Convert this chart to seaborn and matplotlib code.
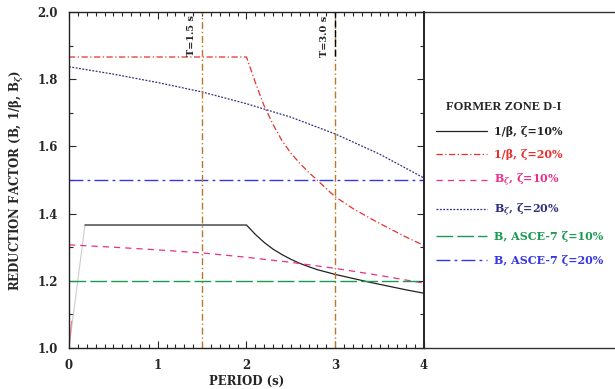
import numpy as np
import pandas as pd
import matplotlib
matplotlib.use("Agg")
import matplotlib.pyplot as plt
from matplotlib.lines import Line2D
from matplotlib.ticker import MultipleLocator
import seaborn as sns

# --- data ---
period_beta10 = [0.18, 2.0, 2.1, 2.2, 2.3, 2.4, 2.5, 2.6, 2.7, 2.8, 2.9, 3.0,
                 3.2, 3.4, 3.6, 3.8, 4.0]
beta10 = [1.366, 1.366, 1.338, 1.314, 1.294, 1.278, 1.264, 1.252, 1.242, 1.233,
          1.226, 1.219, 1.207, 1.195, 1.184, 1.173, 1.163]

period_beta20 = [0.0, 2.0, 2.1, 2.2, 2.3, 2.4, 2.5, 2.6, 2.7, 2.8, 2.9, 3.0,
                 3.2, 3.4, 3.6, 3.8, 4.0]
beta20 = [1.866, 1.866, 1.79, 1.72, 1.665, 1.617, 1.58, 1.55, 1.523, 1.499,
          1.474, 1.450, 1.415, 1.385, 1.357, 1.33, 1.305]

# faint start-up ramps near T=0
ramp_period10 = [0.0, 0.18]
ramp10 = [1.0, 1.366]
ramp_period20 = [0.0, 0.03]
ramp20 = [1.0, 1.08]

period_bz = [0.0, 0.5, 1.0, 1.5, 2.0, 2.5, 3.0, 3.5, 4.0]
bz10 = [1.307, 1.300, 1.292, 1.283, 1.270, 1.255, 1.237, 1.216, 1.193]
bz20 = [1.837, 1.815, 1.790, 1.762, 1.727, 1.687, 1.637, 1.577, 1.506]

asce_period = [0.0, 4.0]
asce10 = [1.2, 1.2]
asce20 = [1.5, 1.5]

t_marks = [1.5, 3.0]
t_labels = ["T=1.5 s", "T=3.0 s"]

C_BLACK, C_RED, C_PINK = "#222222", "#E8302A", "#E8308A"
C_NAVY, C_GREEN, C_BLUE = "#303080", "#1A9A50", "#3535E6"
C_VLINE = "#B8792A"

sns.set_style("ticks")
plt.rcParams["font.family"] = ["DejaVu Serif"]
plt.rcParams["font.weight"] = "bold"
plt.rcParams["mathtext.fontset"] = "dejavuserif"

fig = plt.figure(figsize=(6.15, 3.89), dpi=100)
ax = fig.add_axes([0.1122, 0.1054, 0.5772, 0.8638])
ax2 = fig.add_axes([0.6894, 0.1054, 0.3106, 0.8638])

series = [
    (period_beta10, beta10, C_BLACK, "-", 0.9, "1/β, ζ=10%"),
    (period_beta20, beta20, C_RED, (0, (5, 2, 1, 2)), 0.9, "1/β, ζ=20%"),
    (period_bz, bz10, C_PINK, (0, (5, 4)), 0.9, "B$_\\zeta$, ζ=10%"),
    (period_bz, bz20, C_NAVY, (0, (1.5, 1.2)), 0.9, "B$_\\zeta$, ζ=20%"),
    (asce_period, asce10, C_GREEN, (0, (12, 3)), 1.0, "B, ASCE-7 ζ=10%"),
    (asce_period, asce20, C_BLUE, (0, (10, 3, 2, 3)), 1.0, "B, ASCE-7 ζ=20%"),
]

sns.lineplot(x=ramp_period10, y=ramp10, ax=ax, color="#cccccc", linewidth=0.8,
             sort=False, estimator=None)
sns.lineplot(x=ramp_period20, y=ramp20, ax=ax, color="#f08080", linewidth=0.8,
             sort=False, estimator=None)

handles = []
for x, y, c, ls, lw, lab in series:
    df = pd.DataFrame({"T": x, "B": y})
    sns.lineplot(data=df, x="T", y="B", ax=ax, color=c, linestyle=ls,
                 linewidth=lw, sort=False, estimator=None)
    handles.append(Line2D([], [], color=c, linestyle=ls, linewidth=lw, label=lab))

for t, lab in zip(t_marks, t_labels):
    ax.axvline(t, color=C_VLINE, linestyle=(0, (5, 2, 1, 2)), linewidth=1.0)
    ax.text(t - 0.12, 1.99, lab, rotation=90, ha="center", va="top",
            fontsize=7, fontweight="bold")
ax.axvline(3.0, ymin=0.87, color="black", linestyle=(0, (5, 2)), linewidth=1.0)

ax.set_xlim(0, 4)
ax.set_ylim(1.0, 2.0)
ax.xaxis.set_major_locator(MultipleLocator(1))
ax.xaxis.set_minor_locator(MultipleLocator(0.1))
ax.yaxis.set_major_locator(MultipleLocator(0.2))
ax.yaxis.set_minor_locator(MultipleLocator(0.1))
ax.set_yticks([1.0, 1.2, 1.4, 1.6, 1.8, 2.0])
ax.set_yticklabels(["1.0", "1.2", "1.4", "1.6", "1.8", "2.0"])
ax.tick_params(which="both", direction="in", top=True, right=True,
               labelsize=8.5, pad=8)
ax.tick_params(which="major", length=5, width=0.8)
ax.tick_params(which="minor", length=3, width=0.8)
for s in ax.spines.values():
    s.set_linewidth(1.0)
    s.set_color("#222222")
ax.spines["right"].set_linewidth(1.4)
ax.set_xlabel("PERIOD (s)", fontsize=8.5, fontweight="bold", labelpad=2)
ax.set_ylabel("REDUCTION FACTOR (B, 1/β, B$_\\zeta$)", fontsize=8.5,
              fontweight="bold", labelpad=8)

ax2.set_xlim(0, 1); ax2.set_ylim(0, 1)
ax2.set_xticks([]); ax2.set_yticks([])
ax2.spines["left"].set_visible(False)
ax2.spines["right"].set_visible(False)
for s in ("top", "bottom"):
    ax2.spines[s].set_linewidth(1.0)
    ax2.spines[s].set_color("#333333")
ax2.patch.set_alpha(0)

leg = fig.legend(handles=handles, loc="upper left", bbox_to_anchor=(0.693, 0.765),
                 frameon=False, fontsize=8, title="FORMER ZONE D-I",
                 title_fontproperties={"size": 9, "weight": "bold",
                                       "family": "Liberation Serif"},
                 handlelength=4.6, handletextpad=0.6, labelspacing=1.1,
                 alignment="left", labelcolor="linecolor")
for txt in leg.get_texts():
    txt.set_fontweight("bold")
leg.get_title().set_position((10, 0))

fig.savefig("out.png", dpi=100)
